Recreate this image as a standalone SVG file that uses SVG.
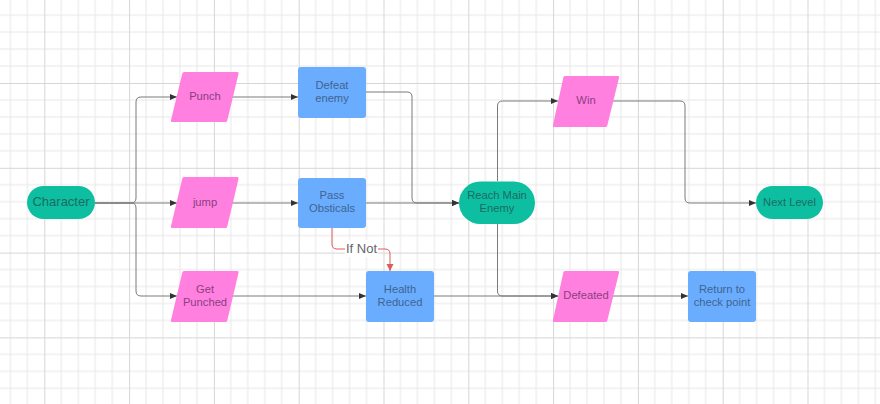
<svg xmlns="http://www.w3.org/2000/svg" width="880" height="404" viewBox="0 0 880 404">
<defs>
<pattern id="grid" patternUnits="userSpaceOnUse" x="44.3" y="83" width="84.8" height="84.8">
<path d="M16.96 0V84.8M33.92 0V84.8M50.88 0V84.8M67.84 0V84.8M0 16.96H84.8M0 33.92H84.8M0 50.88H84.8M0 67.84H84.8" stroke="#e8e8e8" stroke-width="1" fill="none"/>
<path d="M0.5 0V84.8M0 0.5H84.8" stroke="#d6d6d6" stroke-width="1" fill="none"/>
</pattern>
<marker id="arr" markerWidth="8" markerHeight="6" refX="7" refY="3" orient="auto" markerUnits="userSpaceOnUse">
<path d="M0,0 L7,3 L0,6 Z" fill="#333"/>
</marker>
<marker id="arrR" markerWidth="8" markerHeight="8" refX="4" refY="7" orient="0" markerUnits="userSpaceOnUse">
<path d="M0.5,0 L4,7 L7.5,0 Z" fill="#e05a5a"/>
</marker>
</defs>
<style>
.term{fill:#0DBFA0}
.term-t{fill:#1C6B63;font-family:"Liberation Sans",Arial,sans-serif;text-anchor:middle}
.io{fill:#FF80DF}
.io-t{fill:#8A3F82;font-family:"Liberation Sans",Arial,sans-serif;font-size:11.2px;text-anchor:middle}
.proc{fill:#6AADFF}
.proc-t{fill:#3F6491;font-family:"Liberation Sans",Arial,sans-serif;font-size:11.2px;text-anchor:middle}
.con{fill:none;stroke:#7a7a7a;stroke-width:1}
.red{fill:none;stroke:#e05a5a;stroke-width:1}
.lbl{fill:#666;font-family:"Liberation Sans",Arial,sans-serif;font-size:13px;text-anchor:middle}
</style>
<rect width="880" height="404" fill="#ffffff"/>
<rect width="880" height="404" fill="url(#grid)"/>

<g id="connectors">
<path class="con" d="M95,203 H131 Q136,203 136,198 V102 Q136,97 141,97 H177" marker-end="url(#arr)"/>
<path class="con" d="M95,203 H177" marker-end="url(#arr)"/>
<path class="con" d="M95,203 H131 Q136,203 136,208 V291 Q136,296 141,296 H177" marker-end="url(#arr)"/>
<path class="con" d="M232,97 H298" marker-end="url(#arr)"/>
<path class="con" d="M232,203 H298" marker-end="url(#arr)"/>
<path class="con" d="M232,296 H366" marker-end="url(#arr)"/>
<path class="con" d="M366,92 H407 Q412,92 412,97 V198 Q412,203 417,203 H459" marker-end="url(#arr)"/>
<path class="con" d="M366,203 H459" marker-end="url(#arr)"/>
<path class="red" d="M332,228 V244 Q332,249 337,249 H385 Q390,249 390,254 V271" marker-end="url(#arrR)"/>
<rect x="345" y="240" width="33" height="17" fill="#ffffff"/>
<text class="lbl" x="361.5" y="253">If Not</text>
<path class="con" d="M434,296 H558" marker-end="url(#arr)"/>
<path class="con" d="M497.5,224 V291 Q497.5,296 502.5,296 H558" marker-end="url(#arr)"/>
<path class="con" d="M497.5,181 V106 Q497.5,101 502.5,101 H558" marker-end="url(#arr)"/>
<path class="con" d="M613,101 H680 Q685,101 685,106 V198 Q685,203 690,203 H756" marker-end="url(#arr)"/>
<path class="con" d="M613,296 H688" marker-end="url(#arr)"/>
</g>

<g id="character">
<rect class="term" x="27" y="186" width="68" height="33" rx="16.5"/>
<text class="term-t" x="61" y="206" font-size="13">Character</text>
</g>
<g id="punch">
<path class="io" d="M184,72 H237.5 Q239,72 238.6,73.5 L227.3,120.5 Q227,122 225.5,122 H172 Q170.5,122 170.9,120.5 L182.3,73.5 Q182.6,72 184,72 Z"/>
<text class="io-t" x="205" y="100">Punch</text>
</g>
<g id="jump">
<path class="io" d="M184,177 H237.5 Q239,177 238.6,178.5 L227.3,226.5 Q227,228 225.5,228 H172 Q170.5,228 170.9,226.5 L182.3,178.5 Q182.6,177 184,177 Z"/>
<text class="io-t" x="205" y="205.5">jump</text>
</g>
<g id="get-punched">
<path class="io" d="M184,271 H237.5 Q239,271 238.6,272.5 L227.3,320.5 Q227,322 225.5,322 H172 Q170.5,322 170.9,320.5 L182.3,272.5 Q182.6,271 184,271 Z"/>
<text class="io-t" x="205" y="292.5">Get</text>
<text class="io-t" x="205" y="305.5">Punched</text>
</g>
<g id="defeat-enemy">
<rect class="proc" x="298" y="67" width="68" height="51" rx="3"/>
<text class="proc-t" x="332" y="89">Defeat</text>
<text class="proc-t" x="332" y="102">enemy</text>
</g>
<g id="pass-obsticals">
<rect class="proc" x="298" y="178" width="68" height="50" rx="3"/>
<text class="proc-t" x="332" y="199">Pass</text>
<text class="proc-t" x="332" y="212">Obsticals</text>
</g>
<g id="health-reduced">
<rect class="proc" x="366" y="271" width="68" height="51" rx="3"/>
<text class="proc-t" x="400" y="292.5">Health</text>
<text class="proc-t" x="400" y="305.5">Reduced</text>
</g>
<g id="reach-main-enemy">
<rect class="term" x="459" y="181.5" width="76" height="42.5" rx="21.25"/>
<text class="term-t" x="497" y="198.5" font-size="11.2">Reach Main</text>
<text class="term-t" x="497" y="212" font-size="11.2">Enemy</text>
</g>
<g id="win">
<path class="io" d="M565,76 H618 Q619.5,76 619.1,77.5 L607.3,125.5 Q607,127 605.5,127 H554 Q552.5,127 552.9,125.5 L563.3,77.5 Q563.6,76 565,76 Z"/>
<text class="io-t" x="586" y="103.5">Win</text>
</g>
<g id="defeated">
<path class="io" d="M565,271 H618 Q619.5,271 619.1,272.5 L607.3,320.5 Q607,322 605.5,322 H554 Q552.5,322 552.9,320.5 L563.3,272.5 Q563.6,271 565,271 Z"/>
<text class="io-t" x="586" y="298.5">Defeated</text>
</g>
<g id="next-level">
<rect class="term" x="756" y="186" width="67" height="33" rx="16.5"/>
<text class="term-t" x="789.5" y="205.8" font-size="11.2">Next Level</text>
</g>
<g id="return-to-check-point">
<rect class="proc" x="688" y="271" width="68" height="51" rx="3"/>
<text class="proc-t" x="722" y="292.5">Return to</text>
<text class="proc-t" x="722" y="305.5">check point</text>
</g>
</svg>
